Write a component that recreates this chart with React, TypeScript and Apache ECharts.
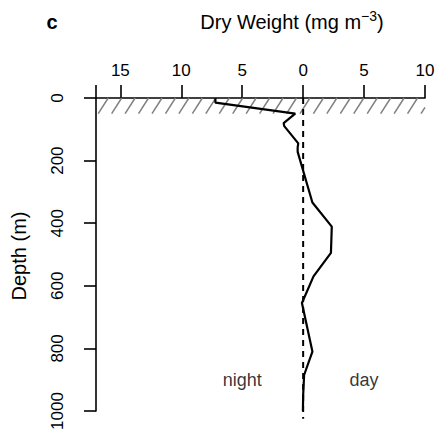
import React, { useEffect, useRef } from "react";
import * as echarts from "echarts";

// Profile: dry weight (negative = night, positive = day) vs depth
const depthM = [0, 15, 50, 80, 90, 145, 158, 172, 334, 411, 495, 570, 655, 810, 885, 950, 1000];
const dryWeight = [-7.2, -7.2, -0.65, -1.6, -1.55, -0.4, -0.45, -0.45, 0.76, 2.35, 2.28, 0.85, -0.1, 0.76, 0.08, 0.0, -0.02];

const xTickValues = [-17, -15, -10, -5, 0, 5, 10];
const xLabelValues = [-15, -10, -5, 0, 5, 10];
const xMin = -17;
const xMax = 10;
const depthMin = 0;
const depthMax = 1000;
const depthInterval = 200;

// hatched surface layer [xFrom, xTo, depthFrom, depthTo]
const hatchLayer = [[-17, 10, 0, 50]];
// dashed zero line
const zeroLine = [[0, 0], [0, 1025]];
// annotations
const annotations = [
  { name: "night", value: [-5, 900] },
  { name: "day", value: [5, 900] },
];

const FONT = "'Liberation Sans', Arial, Helvetica, sans-serif";

export default function App() {
  const ref = useRef<HTMLDivElement>(null);
  useEffect(() => {
    if (!ref.current) return;
    const chart = echarts.init(ref.current, null, { renderer: "svg" });
    const profile = depthM.map((d, i) => [dryWeight[i], d]);
    chart.setOption({
      animation: false,
      backgroundColor: "#ffffff",
      grid: { left: 96, right: 14, top: 98, height: 313, containLabel: false, outerBoundsMode: "none" },
      xAxis: {
        type: "value",
        position: "top",
        min: xMin,
        max: xMax,
        splitLine: { show: false },
        axisLine: { show: true, onZero: false, lineStyle: { color: "#000", width: 1.6 } },
        axisTick: { show: true, customValues: xTickValues, length: 13, lineStyle: { color: "#000", width: 1.6 } },
        axisLabel: {
          customValues: xLabelValues,
          formatter: (v: number) => String(Math.abs(v)),
          color: "#000",
          fontSize: 17,
          fontFamily: FONT,
          margin: 19,
        },
      },
      yAxis: {
        type: "value",
        inverse: true,
        min: depthMin,
        max: depthMax,
        interval: depthInterval,
        splitLine: { show: false },
        axisLine: { show: true, onZero: false, lineStyle: { color: "#000", width: 1.6 } },
        axisTick: { show: true, length: 12, lineStyle: { color: "#000", width: 1.6 } },
        axisLabel: {
          rotate: 90,
          formatter: (v: number) => String(v),
          color: "#000",
          fontSize: 17,
          fontFamily: FONT,
          margin: 30,
        },
      },
      graphic: [
        {
          type: "text",
          x: 52,
          y: 22,
          style: { text: "c", font: `bold 20px ${FONT}`, fill: "#000", align: "center", verticalAlign: "middle" },
        },
        {
          type: "text",
          x: 292,
          y: 22,
          style: {
            text: "Dry Weight (mg m{sup|\u22123})",
            fontSize: 20,
            fontFamily: FONT,
            fill: "#000",
            align: "center",
            verticalAlign: "middle",
            rich: {
              sup: { fontSize: 14, fontFamily: FONT, fill: "#000", padding: [0, 0, 12, 0] },
            },
          },
        },
        {
          type: "text",
          x: 19,
          y: 256,
          rotation: Math.PI / 2,
          style: { text: "Depth (m)", fontSize: 20, fontFamily: FONT, fill: "#000", align: "center", verticalAlign: "middle" },
        },
      ],
      series: [
        {
          type: "custom",
          data: hatchLayer,
          silent: true,
          renderItem: (params: any, api: any) => {
            const a = api.coord([api.value(0), api.value(2)]);
            const b = api.coord([api.value(1), api.value(3)]);
            const xl = Math.min(a[0], b[0]);
            const xr = Math.max(a[0], b[0]);
            const yt = Math.min(a[1], b[1]);
            const yb = Math.max(a[1], b[1]);
            const spacing = 13.45;
            const dx = 10;
            const children: any[] = [];
            for (let xb = xl + 2.2 - spacing; xb < xr; xb += spacing) {
              let x1 = xb, y1 = yb, x2 = xb + dx, y2 = yt;
              const slope = (y2 - y1) / (x2 - x1);
              if (x1 < xl) { y1 = y1 + slope * (xl - x1); x1 = xl; }
              if (x2 > xr) { y2 = y1 + slope * (xr - x1); x2 = xr; }
              if (x2 <= x1) continue;
              children.push({
                type: "line",
                shape: { x1, y1, x2, y2 },
                style: { stroke: "#808080", lineWidth: 1.5 },
              });
            }
            return { type: "group", children };
          },
          z: 1,
        },
        {
          type: "line",
          data: zeroLine,
          clip: false,
          showSymbol: false,
          symbol: "none",
          lineStyle: { color: "#000", width: 2, type: [6, 5] },
          z: 2,
        },
        {
          type: "line",
          data: profile,
          showSymbol: false,
          symbol: "none",
          lineStyle: { color: "#000", width: 2.2 },
          z: 3,
        },
        {
          type: "scatter",
          data: annotations,
          symbolSize: 0,
          label: {
            show: true,
            position: "inside",
            formatter: (p: any) => p.name,
            color: "#000",
            fontSize: 18,
            fontFamily: FONT,
          },
          z: 4,
        },
      ],
    });
    return () => chart.dispose();
  }, []);
  return <div ref={ref} style={{ position: "fixed", left: 0, top: 0, width: 439, height: 436 }} />;
}
